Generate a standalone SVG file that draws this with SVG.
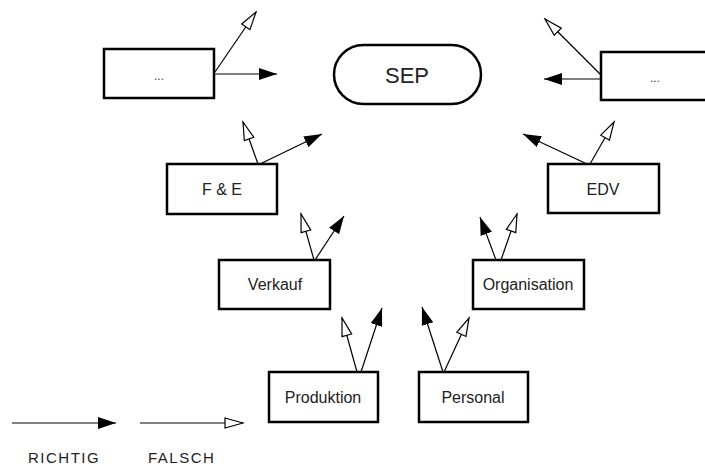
<svg xmlns="http://www.w3.org/2000/svg" width="705" height="466" viewBox="0 0 705 466">
<style>
.box{fill:#fff;stroke:#000;stroke-width:2.5}
.lbl{font-family:"Liberation Sans",Arial,sans-serif;font-size:16px;fill:#222;text-anchor:middle}
.dots{font-family:"Liberation Sans",Arial,sans-serif;font-size:12px;fill:#444;text-anchor:middle}
.leg{font-family:"Liberation Sans",Arial,sans-serif;font-size:15px;fill:#222;letter-spacing:1.5px}
.ok{fill:none;stroke:#000;stroke-width:1.2;marker-end:url(#mFill)}
.bad{fill:none;stroke:#000;stroke-width:1.2;marker-end:url(#mOpen)}
</style>
<defs>
<marker id="mFill" markerUnits="userSpaceOnUse" markerWidth="20" markerHeight="14" refX="18" refY="6" orient="auto">
<path d="M0,0 L18,6 L0,12 Z" fill="#000"/>
</marker>
<marker id="mOpen" markerUnits="userSpaceOnUse" markerWidth="21" markerHeight="14" refX="19" refY="6" orient="auto">
<path d="M1,1 L19,6 L1,11 Z" fill="#fff" stroke="#000" stroke-width="1.2"/>
</marker>
</defs>
<rect width="705" height="466" fill="#fff"/>
<g id="connectors">
<line class="ok" x1="214" y1="74" x2="277" y2="74"/>
<line class="bad" x1="215" y1="72" x2="256" y2="12"/>
<line class="bad" x1="258" y1="164" x2="243" y2="122"/>
<line class="ok" x1="260" y1="164" x2="322" y2="134"/>
<line class="bad" x1="314" y1="260" x2="301" y2="214"/>
<line class="ok" x1="315" y1="260" x2="344" y2="216"/>
<line class="bad" x1="357" y1="372" x2="342" y2="318"/>
<line class="ok" x1="361" y1="372" x2="382" y2="308"/>
<line class="ok" x1="443" y1="372" x2="422" y2="307"/>
<line class="bad" x1="444" y1="372" x2="469" y2="318"/>
<line class="ok" x1="496" y1="260" x2="480" y2="217"/>
<line class="bad" x1="501" y1="260" x2="517" y2="214"/>
<line class="ok" x1="587" y1="164" x2="523" y2="134"/>
<line class="bad" x1="590" y1="164" x2="614" y2="122"/>
<line class="ok" x1="601" y1="79" x2="544" y2="79"/>
<line class="bad" x1="601" y1="75" x2="545" y2="19"/>
</g>
<g id="sep">
<rect class="box" x="334" y="45" width="147" height="59" rx="29.5" ry="29.5"/>
<text class="lbl" x="407" y="83" style="font-size:22px">SEP</text>
</g>
<g id="box-tl">
<rect class="box" x="104" y="49" width="110" height="49"/>
<text class="dots" x="159" y="80">...</text>
</g>
<g id="box-tr">
<rect class="box" x="601" y="52" width="112" height="48"/>
<text class="dots" x="655" y="82">...</text>
</g>
<g id="fe">
<rect class="box" x="167" y="164" width="110" height="50"/>
<text class="lbl" x="222" y="195">F &amp; E</text>
</g>
<g id="edv">
<rect class="box" x="548" y="164" width="111" height="49"/>
<text class="lbl" x="603" y="195">EDV</text>
</g>
<g id="verkauf">
<rect class="box" x="219" y="260" width="111" height="49"/>
<text class="lbl" x="275" y="290">Verkauf</text>
</g>
<g id="organisation">
<rect class="box" x="473" y="260" width="111" height="49"/>
<text class="lbl" x="528" y="290">Organisation</text>
</g>
<g id="produktion">
<rect class="box" x="269" y="372" width="109" height="50"/>
<text class="lbl" x="323" y="403">Produktion</text>
</g>
<g id="personal">
<rect class="box" x="419" y="372" width="109" height="50"/>
<text class="lbl" x="473" y="403">Personal</text>
</g>
<g id="legend">
<line class="ok" x1="12" y1="423" x2="116" y2="423"/>
<line class="bad" x1="140" y1="423" x2="243" y2="423"/>
<text class="leg" x="28" y="463">RICHTIG</text>
<text class="leg" x="148" y="463">FALSCH</text>
</g>
</svg>
